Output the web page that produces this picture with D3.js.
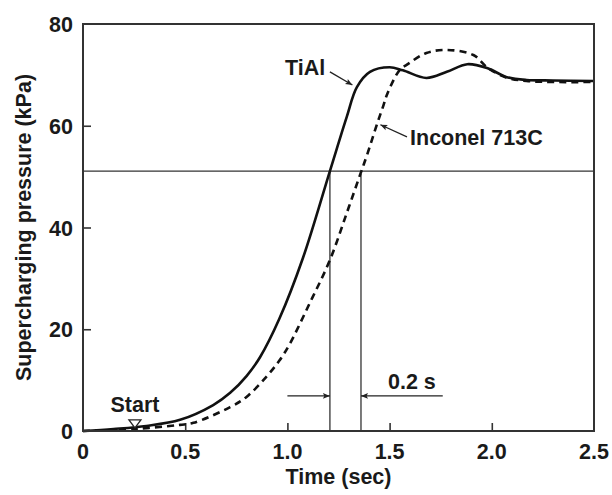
<!DOCTYPE html>
<html>
<head>
<meta charset="utf-8">
<script src="https://cdn.jsdelivr.net/npm/d3@7"></script>
<style>
  body { margin: 0; background: #fff; }
  svg text { font-family: "Liberation Sans", Arial, sans-serif; font-weight: bold; fill: #1a1a1a; }
</style>
</head>
<body>
<div id="chart"></div>
<script>
// data
const tialTime = [0, 0.15, 0.31, 0.475, 0.637, 0.72, 0.8, 0.866, 0.96, 1.076, 1.208, 1.29, 1.34, 1.404, 1.5, 1.565, 1.68, 1.78, 1.88, 1.98, 2.07, 2.17, 2.3, 2.5];
const tialPressure = [0, 0.4, 1.0, 2.2, 5.1, 7.5, 10.8, 14.5, 22, 34, 51.1, 61.7, 67.6, 70.6, 71.5, 70.9, 69.4, 70.6, 72.1, 71.3, 69.6, 69.0, 68.9, 68.8];

const inconelTime = [0, 0.25, 0.475, 0.54, 0.72, 0.8, 0.9, 0.96, 1.01, 1.11, 1.208, 1.29, 1.355, 1.39, 1.44, 1.47, 1.49, 1.55, 1.585, 1.68, 1.78, 1.91, 1.98, 2.07, 2.17, 2.3, 2.5];
const inconelPressure = [0, 0.4, 1.2, 1.6, 4.7, 6.7, 10.8, 13.8, 17, 25.2, 33.6, 42.8, 50.3, 54.3, 60.5, 64, 66.4, 71, 72, 74.3, 74.9, 73.9, 71.4, 69.5, 68.8, 68.6, 68.6];

const xTicks = [0, 0.5, 1.0, 1.5, 2.0, 2.5];
const xTickLabels = ["0", "0.5", "1.0", "1.5", "2.0", "2.5"];
const yTicks = [0, 20, 40, 60, 80];

const refPressure = 51.1;
const tialCross = 1.208, inconelCross = 1.36, inconelCrossP = 50.5;

const W = 612, H = 495;
const m = { left: 83, right: 18, top: 24, bottom: 64 };
const iw = W - m.left - m.right, ih = H - m.top - m.bottom;

const svg = d3.select("#chart").append("svg").attr("width", W).attr("height", H);
const g = svg.append("g").attr("transform", `translate(${m.left},${m.top})`);

const x = d3.scaleLinear().domain([0, 2.5]).range([0, iw]);
const y = d3.scaleLinear().domain([0, 80]).range([ih, 0]);

// inside ticks (no labels here, labels placed separately)
const xAxis = g.append("g").attr("transform", `translate(0,${ih})`)
  .call(d3.axisBottom(x).tickValues(xTicks.slice(1, -1)).tickSize(-8).tickFormat(""));
const yAxis = g.append("g")
  .call(d3.axisLeft(y).tickValues(yTicks.slice(1, -1)).tickSize(-8).tickFormat(""));
[xAxis, yAxis].forEach(a => {
  a.select(".domain").remove();
  a.selectAll("line").attr("stroke", "#333").attr("stroke-width", 1.6);
});

// tick labels
g.selectAll(".xl").data(xTicks).enter().append("text")
  .attr("x", d => x(d)).attr("y", ih + 28)
  .attr("text-anchor", "middle").style("font-size", "21.5px")
  .text((d, i) => xTickLabels[i]);
g.selectAll(".yl").data(yTicks).enter().append("text")
  .attr("x", -10).attr("y", d => y(d) + 8)
  .attr("text-anchor", "end").style("font-size", "21.5px")
  .text(d => d);

// axis titles
g.append("text").attr("x", iw / 2).attr("y", ih + 53)
  .attr("text-anchor", "middle").style("font-size", "21.5px").text("Time (sec)");
g.append("text").attr("transform", `translate(-52,${ih / 2}) rotate(-90)`)
  .attr("text-anchor", "middle").style("font-size", "21.5px").text("Supercharging pressure (kPa)");

// reference lines
g.append("line").attr("x1", 0).attr("x2", iw).attr("y1", y(refPressure)).attr("y2", y(refPressure))
  .attr("stroke", "#333").attr("stroke-width", 1.3);
g.append("line").attr("x1", x(tialCross)).attr("x2", x(tialCross)).attr("y1", y(refPressure)).attr("y2", y(0))
  .attr("stroke", "#333").attr("stroke-width", 1.3);
g.append("line").attr("x1", x(inconelCross)).attr("x2", x(inconelCross)).attr("y1", y(inconelCrossP)).attr("y2", y(0))
  .attr("stroke", "#333").attr("stroke-width", 1.3);

// curves
const line = d3.line().x(d => x(d[0])).y(d => y(d[1])).curve(d3.curveCatmullRom.alpha(0.5));
g.append("path").datum(d3.zip(inconelTime, inconelPressure)).attr("d", line)
  .attr("fill", "none").attr("stroke", "#111").attr("stroke-width", 2.6).attr("stroke-dasharray", "7,5");
g.append("path").datum(d3.zip(tialTime, tialPressure)).attr("d", line)
  .attr("fill", "none").attr("stroke", "#111").attr("stroke-width", 2.6);

// arrow marker
svg.append("defs").append("marker").attr("id", "ah")
  .attr("viewBox", "0 0 10 10").attr("refX", 10).attr("refY", 5)
  .attr("markerWidth", 11).attr("markerHeight", 7).attr("markerUnits", "userSpaceOnUse")
  .attr("orient", "auto")
  .append("path").attr("d", "M0,1 L10,5 L0,9 L2,5 Z").attr("fill", "#222");

function arrow(t0, p0, t1, p1) {
  g.append("line").attr("x1", x(t0)).attr("y1", y(p0)).attr("x2", x(t1)).attr("y2", y(p1))
    .attr("stroke", "#222").attr("stroke-width", 1.3).attr("marker-end", "url(#ah)");
}

// labels
g.append("text").attr("x", x(0.988)).attr("y", y(70)).style("font-size", "21.5px").text("TiAl");
arrow(1.208, 70.6, 1.318, 68.0);
g.append("text").attr("x", x(1.6)).attr("y", y(56.2)).style("font-size", "21.5px").text("Inconel 713C");
arrow(1.585, 57.8, 1.455, 60.2);

// 0.2 s gap
arrow(1.0, 6.9, tialCross, 6.9);
arrow(1.76, 6.9, inconelCross, 6.9);
g.append("text").attr("x", x(1.492)).attr("y", y(8.3)).style("font-size", "21.5px").text("0.2 s");

// start marker
const startT = 0.254;
g.append("text").attr("x", x(startT)).attr("y", y(3.7)).attr("text-anchor", "middle")
  .style("font-size", "21.5px").text("Start");
g.append("path")
  .attr("d", `M${x(startT) - 6},${y(0.6) - 8} L${x(startT) + 6},${y(0.6) - 8} L${x(startT)},${y(0.6)} Z`)
  .attr("fill", "#fff").attr("stroke", "#222").attr("stroke-width", 1.3);

// frame
g.append("rect").attr("x", 0).attr("y", 0).attr("width", iw).attr("height", ih)
  .attr("fill", "none").attr("stroke", "#333").attr("stroke-width", 2);
</script>
</body>
</html>
